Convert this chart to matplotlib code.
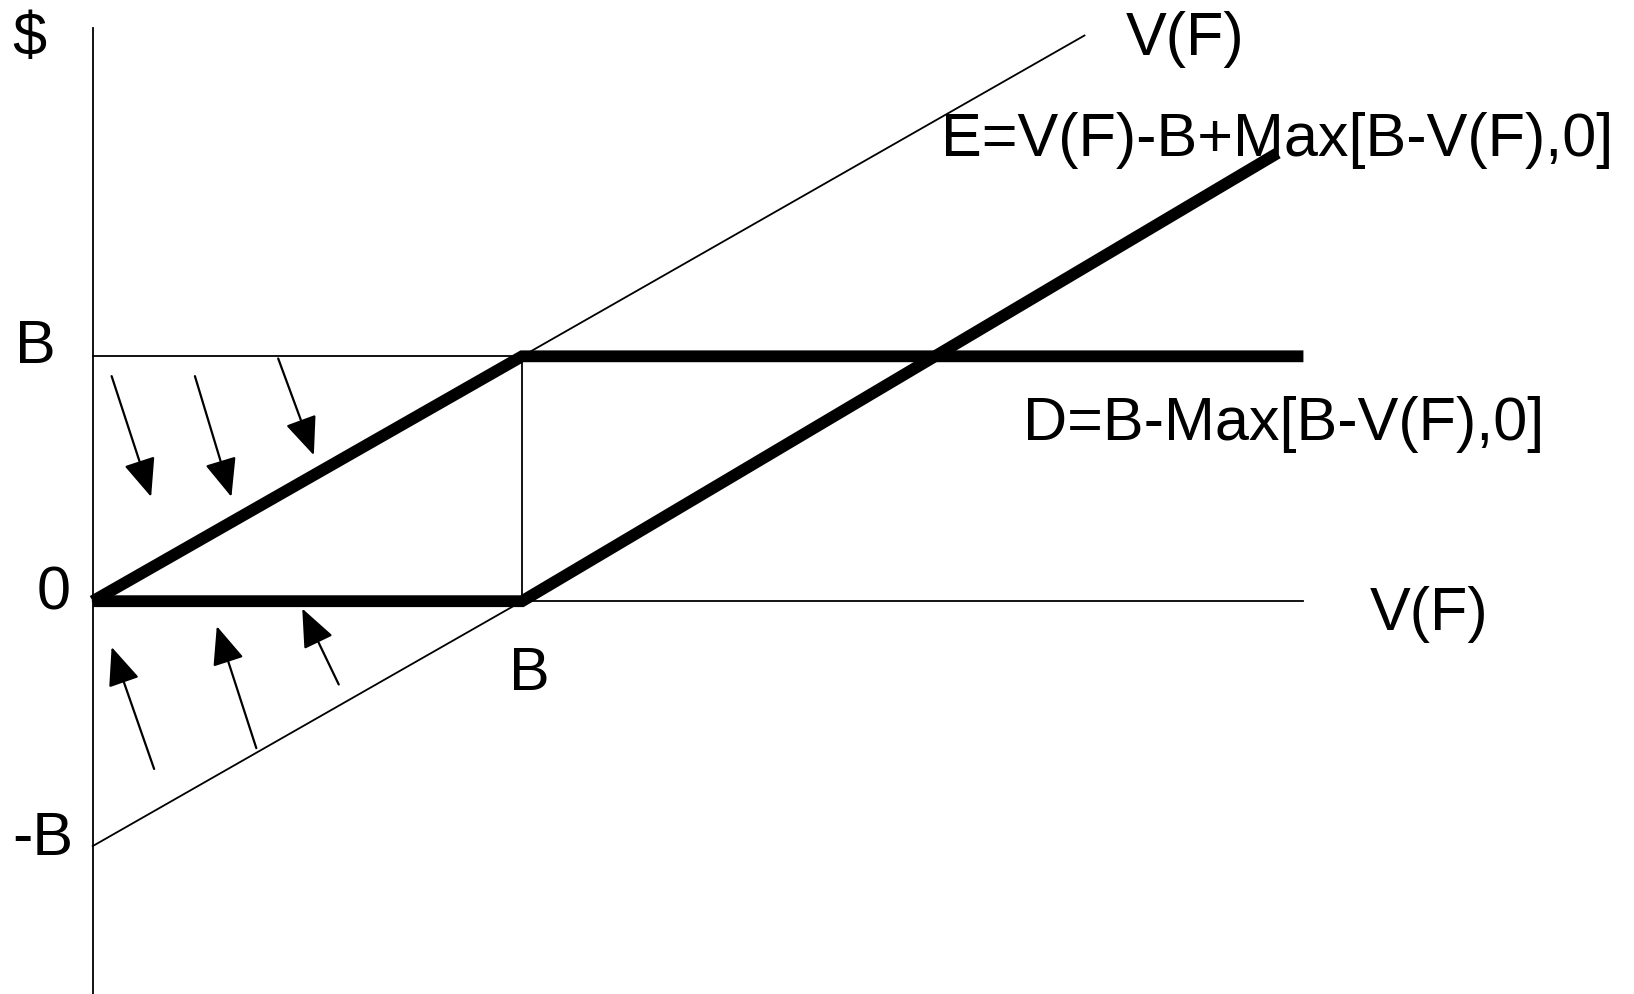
import numpy as np
import matplotlib
matplotlib.use('Agg')
import matplotlib.pyplot as plt

plt.rcParams['font.family'] = ['Liberation Sans', 'DejaVu Sans']

# Chart values (data units, B = 1)
B = 1.0
vf_x = [0.0, 2.31]            # V(F) 45-degree line
low_x = [0.0, 1.0]            # V(F) - B line below zero
zero_x = [0.0, 2.82]          # horizontal axis V(F)
yaxis_y = [-1.70, 2.34]       # vertical axis $
debt_x = [0.0, 1.0, 2.82]     # D = B - Max[B-V(F),0]
debt_y = [0.0, 1.0, 1.0]
eq_x = [0.0, 1.0, 2.76]       # E = V(F) - B + Max[B-V(F),0]
eq_y = [0.0, 0.0, 1.83]

# arrows: (start, end)
down_arrows = [((0.044, 0.919), (0.136, 0.426)),
               ((0.238, 0.919), (0.323, 0.426)),
               ((0.432, 0.991), (0.515, 0.596))]
up_arrows = [((0.143, -0.685), (0.044, -0.187)),
             ((0.381, -0.600), (0.289, -0.102)),
             ((0.573, -0.340), (0.488, -0.030))]

labels = ['$', 'B', '0', '-B', 'B', 'V(F)', 'V(F)',
          'E=V(F)-B+Max[B-V(F),0]', 'D=B-Max[B-V(F),0]']
label_pos = [(-0.187, 2.296), (-0.180, 1.042), (-0.131, 0.034),
             (-0.187, -0.967), (0.969, -0.297), (2.975, -0.052),
             (2.405, 2.296), (1.976, 1.884), (2.167, 0.724)]

fig = plt.figure(figsize=(16.34, 9.95), dpi=100)
ax = fig.add_axes([0, 0, 1, 1])
ax.set_xlim(-0.216, 3.590)
ax.set_ylim(-1.604, 2.459)
ax.axis('off')

thin = 1.3
thick = 8.5

# thin lines
ax.plot([0, 0], yaxis_y, color='black', lw=thin)
ax.plot(zero_x, [0, 0], color='black', lw=thin)
ax.plot(vf_x, vf_x, color='black', lw=thin)
ax.plot(low_x, np.array(low_x) - B, color='black', lw=thin)
ax.plot([0, B], [B, B], color='black', lw=thin)
ax.plot([B, B], [0, B], color='black', lw=thin)

# thick payoff lines
ax.plot(debt_x, debt_y, color='black', lw=thick, solid_capstyle='butt', solid_joinstyle='miter')
ax.plot(eq_x, eq_y, color='black', lw=thick, solid_capstyle='butt', solid_joinstyle='miter')

arrow_style = dict(arrowstyle='-|>,head_length=1.2,head_width=0.5', mutation_scale=20,
                   lw=1.6, color='black', shrinkA=0, shrinkB=0)
for start, end in down_arrows + up_arrows:
    ax.annotate('', xy=end, xytext=start, arrowprops=arrow_style)

for txt, (x, y) in zip(labels, label_pos):
    ax.text(x, y, txt, fontsize=44, ha='left', va='center', color='black')

fig.savefig('out.png', dpi=100)
